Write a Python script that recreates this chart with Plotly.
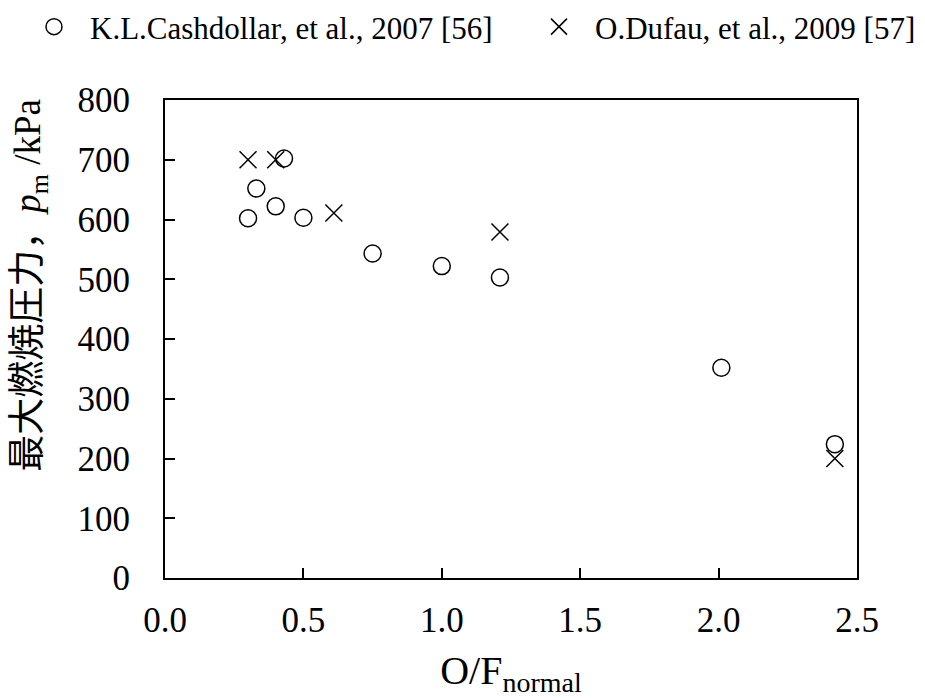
import plotly.graph_objects as go

# Data
cash_x = [0.30, 0.33, 0.40, 0.43, 0.50, 0.75, 1.00, 1.21, 2.01, 2.42]
cash_y = [602, 652, 622, 702, 603, 543, 522, 503, 352, 224]
dufau_x = [0.30, 0.40, 0.61, 1.21, 2.42]
dufau_y = [700, 700, 611, 579, 200]

x_ticks = [0.0, 0.5, 1.0, 1.5, 2.0, 2.5]
x_ticklabels = ["0.0", "0.5", "1.0", "1.5", "2.0", "2.5"]
y_ticks = [0, 100, 200, 300, 400, 500, 600, 700, 800]

serif = "Liberation Serif, Times New Roman, Noto Sans CJK JP, serif"

fig = go.Figure()
fig.add_trace(go.Scatter(
    x=cash_x, y=cash_y, mode="markers",
    name="K.L.Cashdollar, et al., 2007 [56]",
    legend="legend",
    marker=dict(symbol="circle-open", size=17, color="black",
                line=dict(width=1.5, color="black")),
))
fig.add_trace(go.Scatter(
    x=dufau_x, y=dufau_y, mode="markers",
    name="O.Dufau, et al., 2009 [57]",
    legend="legend2",
    marker=dict(symbol="x-thin-open", size=17, color="black",
                line=dict(width=1.5, color="black")),
))

legend_common = dict(
    orientation="h",
    xref="container", yref="container",
    y=1.0, xanchor="left", yanchor="top",
    font=dict(family="Liberation Serif", size=31, color="black"),
    itemwidth=62,
    bgcolor="rgba(0,0,0,0)",
)

fig.update_layout(
    width=925, height=698,
    margin=dict(l=165, r=68, t=100, b=120, autoexpand=False),
    paper_bgcolor="white", plot_bgcolor="white",
    font=dict(family=serif, size=35, color="black"),
    showlegend=True,
    legend=dict(x=18 / 925, **legend_common),
    legend2=dict(x=523 / 925, **legend_common),
    xaxis=dict(
        range=[0, 2.5],
        tickmode="array", tickvals=x_ticks, ticktext=x_ticklabels,
        ticks="inside", ticklen=10, tickwidth=1.5, tickcolor="black",
        showline=True, linewidth=2, linecolor="black", mirror=True,
        showgrid=False, zeroline=False,
        ticklabelstandoff=10,
        title=dict(text="O/F<sub>normal</sub>", font=dict(family=serif, size=40),
                   standoff=19),
    ),
    yaxis=dict(
        range=[0, 800],
        tickmode="array", tickvals=y_ticks,
        ticks="inside", ticklen=10, tickwidth=1.5, tickcolor="black",
        showline=True, linewidth=2, linecolor="black", mirror=True,
        showgrid=False, zeroline=False,
        ticklabelstandoff=26,
    ),
    annotations=[dict(
        text="最大燃焼圧力，<i>p</i><sub>m</sub> /kPa",
        xref="paper", yref="paper",
        x=-0.194, y=0.613, xanchor="center", yanchor="middle",
        textangle=-90, showarrow=False,
        font=dict(family=serif, size=37, color="black"),
    )],
)

fig.write_html("out.html")
